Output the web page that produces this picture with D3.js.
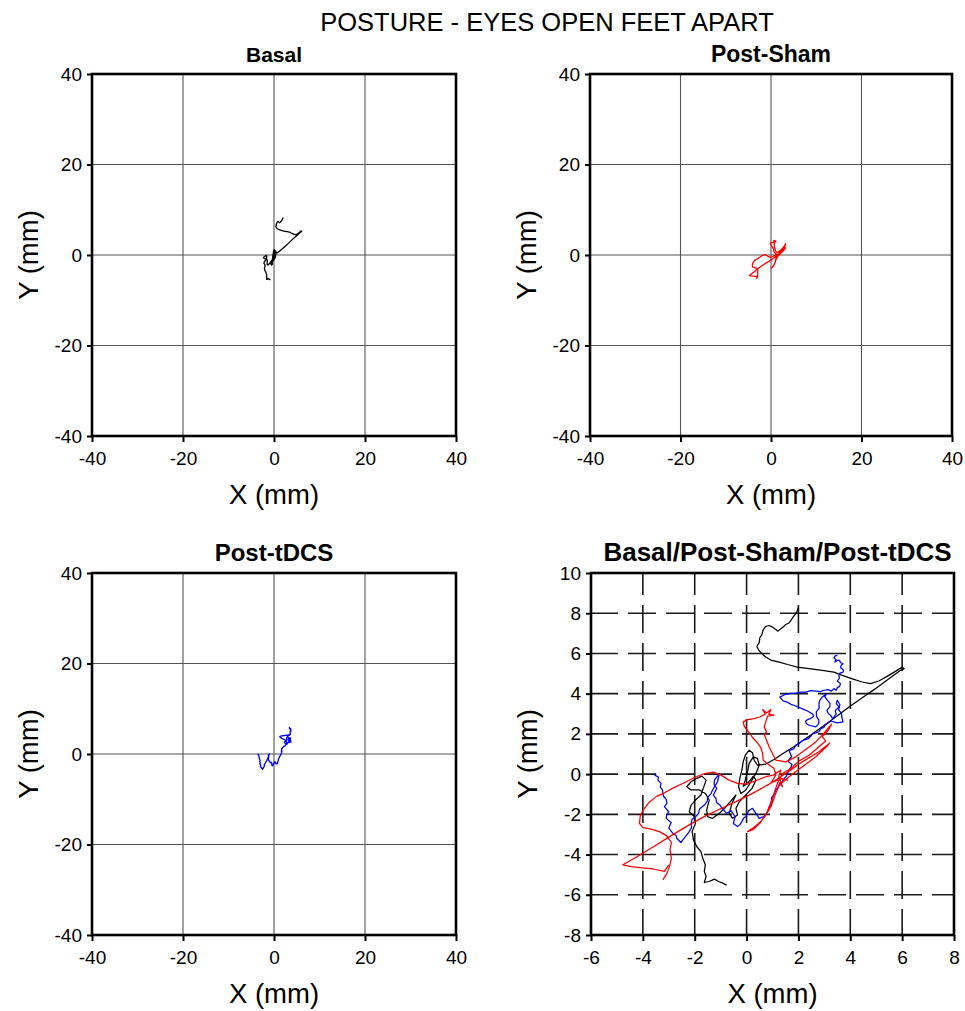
<!DOCTYPE html>
<html>
<head>
<meta charset="utf-8">
<script src="https://cdn.jsdelivr.net/npm/d3@7"></script>
<style>
  html, body { margin: 0; padding: 0; background: #fff; }
  svg text { font-family: "Liberation Sans", Arial, sans-serif; fill: #000; }
</style>
</head>
<body>
<svg id="chart" width="965" height="1011"></svg>
<script>
// Centre-of-pressure traces (mm), one array pair per condition
const basalX = [2.00,1.95,1.87,1.79,1.71,1.62,1.51,1.41,1.31,1.21,
  1.10,1.00,0.87,0.74,0.64,0.59,0.51,0.49,0.40,0.46,
  0.59,0.74,0.97,1.26,1.58,1.96,2.41,2.92,3.37,3.69,
  4.08,4.46,4.78,5.10,5.42,5.74,6.00,6.08,5.94,5.49,
  4.97,4.46,3.95,3.44,2.92,2.41,1.90,1.45,1.06,0.74,
  0.42,0.29,0.23,0.10,-0.05,-0.13,-0.18,-0.26,-0.31,-0.22,
  -0.03,0.17,0.36,0.49,0.42,0.26,0.10,0.04,-0.05,-0.13,
  0.04,0.26,0.36,0.21,-0.03,-0.28,-0.41,-0.35,-0.54,-0.67,
  -0.56,-0.41,-0.79,-1.05,-1.31,-1.50,-1.54,-1.44,-1.59,-1.82,
  -2.14,-2.31,-2.14,-1.92,-1.72,-1.56,-1.76,-1.97,-2.14,-2.21,
  -2.01,-1.97,-2.10,-2.05,-1.92,-1.76,-1.69,-1.59,-1.63,-1.56,
  -1.63,-1.44,-1.24,-1.08,-0.92,-0.77];
const basalY = [8.30,8.10,7.93,7.80,7.64,7.50,7.44,7.31,7.22,7.11,
  7.21,7.31,7.39,7.34,7.17,6.94,6.78,6.55,6.35,6.18,
  5.98,5.82,5.65,5.57,5.45,5.32,5.24,5.16,5.07,4.91,
  4.74,4.58,4.50,4.63,4.86,5.11,5.32,5.24,5.16,4.74,
  4.25,3.80,3.34,2.84,2.35,1.88,1.42,1.06,0.73,0.50,
  0.45,0.69,1.06,1.19,0.94,0.61,0.20,-0.21,-0.63,-0.96,
  -0.79,-0.38,0.03,0.45,0.78,0.86,0.53,0.12,-0.30,-0.60,
  -0.46,-0.10,-0.30,-0.71,-1.04,-1.37,-1.70,-2.03,-2.20,-1.95,
  -1.45,-1.04,-1.62,-1.95,-2.20,-2.12,-1.79,-1.29,-0.96,-0.79,
  -0.79,-0.63,-0.38,-0.21,-0.10,-0.30,-1.04,-1.29,-1.54,-1.87,
  -2.12,-2.45,-2.86,-3.27,-3.60,-3.85,-4.18,-4.51,-4.84,-5.09,
  -5.39,-5.34,-5.22,-5.34,-5.42,-5.52];

const shamX = [-3.23,-3.08,-2.97,-2.90,-2.95,-2.90,-3.08,-3.36,-3.68,-4.00,
  -4.13,-4.10,-3.97,-3.77,-3.49,-3.17,-2.78,-2.40,-2.01,-1.63,
  -1.28,-0.99,-0.67,-0.35,-0.03,0.36,0.74,1.03,1.32,1.23,
  1.58,1.28,1.38,1.21,0.94,1.13,1.06,0.87,0.64,0.62,
  0.55,0.42,0.23,0.08,-0.09,-0.13,0.04,0.29,0.51,0.72,
  0.62,0.77,0.94,0.85,1.06,0.81,0.74,0.68,0.77,0.68,
  0.87,1.13,1.51,1.90,2.28,2.67,2.99,3.28,3.15,2.92,
  3.05,2.79,2.41,2.03,1.71,1.38,1.19,1.06,0.94,0.77,
  0.55,0.29,0.04,0.23,0.51,0.74,0.94,1.10,1.26,1.64,
  2.15,2.67,3.08,3.21,2.79,2.15,1.51,0.87,0.23,-0.41,
  -1.05,-1.69,-2.33,-2.97,-3.62,-4.26,-4.77,-4.45,-4.00,-3.55,
  -3.17,-3.00];
const shamY = [-5.26,-4.96,-4.60,-4.18,-3.77,-3.40,-3.07,-2.86,-2.74,-2.66,
  -2.45,-2.08,-1.75,-1.42,-1.12,-0.93,-0.66,-0.43,-0.17,0.03,
  0.10,-0.05,-0.30,-0.46,-0.50,-0.33,-0.13,-0.05,0.20,-0.17,
  -0.30,-0.21,-0.63,-0.30,-0.43,-0.05,0.28,0.45,0.69,1.02,
  1.32,1.55,1.82,2.10,2.38,2.60,2.71,2.76,2.84,2.98,
  3.21,3.04,3.21,2.98,2.93,2.88,2.60,2.35,2.10,1.98,
  1.36,0.69,0.61,0.86,1.22,1.60,2.05,2.48,2.18,1.85,
  1.65,1.36,0.94,0.66,0.28,0.03,-0.46,-0.96,-1.45,-1.95,
  -2.36,-2.64,-2.86,-2.78,-2.45,-2.03,-1.62,-1.04,-0.55,-0.13,
  0.36,0.86,1.36,1.55,1.11,0.61,0.03,-0.50,-0.96,-1.37,
  -1.75,-2.15,-2.61,-3.11,-3.64,-4.13,-4.51,-4.60,-4.66,-4.73,
  -4.84,-4.51];

const tdcsX = [3.50,3.42,3.37,3.45,3.41,3.52,3.59,3.62,3.72,3.64,
  3.63,3.74,3.72,3.60,3.56,3.58,3.50,3.62,3.59,3.50,
  3.46,3.37,3.28,3.14,2.99,2.83,2.67,2.48,2.28,2.10,
  1.90,1.70,1.51,1.28,1.41,1.56,1.71,1.87,2.03,2.20,
  2.35,2.56,2.58,2.47,2.36,2.28,2.30,2.41,2.67,2.78,
  2.79,2.70,2.69,2.80,2.79,2.83,2.92,3.08,3.02,3.12,
  3.22,3.21,3.10,3.15,3.26,3.31,3.46,3.42,3.56,3.46,
  3.50,3.60,3.55,3.66,3.67,3.72,3.50,3.24,3.03,2.98,
  2.86,2.80,2.67,2.54,2.47,2.38,2.26,2.12,2.03,1.90,
  1.83,1.64,1.74,1.64,1.62,1.75,1.71,1.62,1.58,1.54,
  1.45,1.38,1.26,1.22,1.13,1.07,0.97,0.95,0.87,0.82,
  0.72,0.49,0.36,0.23,0.08,-0.03,-0.12,-0.18,-0.25,-0.35,
  -0.51,-0.44,-0.60,-0.77,-0.95,-1.02,-1.15,-1.18,-1.28,-1.15,
  -1.25,-1.24,-1.05,-1.12,-1.22,-1.31,-1.38,-1.50,-1.52,-1.63,
  -1.82,-1.85,-1.97,-2.10,-2.14,-2.12,-2.21,-2.36,-2.53,-2.69,
  -2.72,-2.85,-3.00,-2.91,-3.10,-3.08,-3.00,-3.17,-3.07,-3.10,
  -3.20,-3.23,-3.24,-3.33,-3.30,-3.42,-3.40,-3.54,-3.49];
const tdcsY = [5.90,5.88,5.79,5.70,5.57,5.66,5.65,5.55,5.49,5.40,
  5.29,5.18,5.07,5.02,4.91,4.77,4.63,4.50,4.36,4.30,
  4.17,4.25,4.13,4.20,4.17,4.10,4.13,4.15,4.08,4.08,
  4.03,4.02,3.97,3.83,3.64,3.58,3.47,3.40,3.31,3.22,
  3.14,2.98,2.86,2.76,2.72,2.64,2.52,2.43,2.35,2.50,
  2.68,2.86,3.09,3.28,3.50,3.68,3.83,4.00,3.84,3.67,
  3.52,3.34,3.18,3.01,2.90,2.76,2.98,3.15,3.34,3.50,
  3.67,3.45,3.20,3.02,2.84,2.60,2.55,2.64,2.43,2.32,
  2.26,2.12,2.05,2.00,1.88,1.76,1.72,1.64,1.52,1.44,
  1.27,1.16,0.86,0.74,0.61,0.48,0.33,0.18,0.03,-0.10,
  -0.21,-0.36,-0.50,-0.65,-0.79,-0.98,-1.16,-1.40,-1.62,-1.85,
  -2.08,-2.20,-1.95,-1.70,-1.82,-2.12,-2.20,-2.36,-2.50,-2.61,
  -2.45,-2.12,-1.82,-1.95,-1.70,-1.55,-1.42,-1.22,-1.04,-0.71,
  -0.52,-0.30,0.03,-0.38,-0.60,-0.79,-0.98,-1.16,-1.36,-1.54,
  -1.75,-1.95,-2.12,-2.25,-2.45,-2.65,-2.86,-3.11,-3.40,-3.19,
  -3.05,-2.94,-2.69,-2.41,-2.20,-2.02,-1.87,-1.62,-1.45,-1.26,
  -1.10,-0.96,-0.80,-0.63,-0.46,-0.30,-0.15,-0.05,0.03];

// Axis ticks
const wideTicks = [-40, -20, 0, 20, 40];
const zoomXTicks = [-6, -4, -2, 0, 2, 4, 6, 8];
const zoomYTicks = [-8, -6, -4, -2, 0, 2, 4, 6, 8, 10];

const mainTitle = "POSTURE - EYES OPEN FEET APART";
const panelTitles = ["Basal", "Post-Sham", "Post-tDCS", "Basal/Post-Sham/Post-tDCS"];
const seriesColors = { basal: "#000000", sham: "#ff0000", tdcs: "#0000ff" };

const toPoints = (xs, ys) => xs.map((x, i) => [x, ys[i]]);
const basal = toPoints(basalX, basalY);
const sham = toPoints(shamX, shamY);
const tdcs = toPoints(tdcsX, tdcsY);

const svg = d3.select("#chart");

svg.append("text")
  .attr("x", 547).attr("y", 31)
  .attr("text-anchor", "middle")
  .style("font-size", "25.5px")
  .text(mainTitle);

// plain hyphen for negative tick values
const tickText = d => String(d);

function drawPanel(opt) {
  const g = svg.append("g");
  const x = d3.scaleLinear().domain(opt.xDomain).range([opt.left, opt.right]);
  const y = d3.scaleLinear().domain(opt.yDomain).range([opt.bottom, opt.top]);
  const inner = v => v > opt.xDomain[0] && v < opt.xDomain[1];
  const innerY = v => v > opt.yDomain[0] && v < opt.yDomain[1];

  // grid
  const grid = g.append("g");
  if (opt.dashed) {
    grid.selectAll("line.v").data(opt.xTicks.filter(inner)).join("line")
      .attr("x1", d => x(d)).attr("x2", d => x(d))
      .attr("y1", opt.top).attr("y2", opt.bottom)
      .attr("stroke", "#1a1a1a").attr("stroke-width", 1.6)
      .attr("stroke-dasharray", "28,10").attr("stroke-dashoffset", 6);
    grid.selectAll("line.h").data(opt.yTicks.filter(innerY)).join("line")
      .attr("x1", opt.right).attr("x2", opt.left)
      .attr("y1", d => y(d)).attr("y2", d => y(d))
      .attr("stroke", "#1a1a1a").attr("stroke-width", 1.6)
      .attr("stroke-dasharray", "28,10").attr("stroke-dashoffset", 6);
  } else {
    grid.selectAll("line.v").data(opt.xTicks.filter(inner)).join("line")
      .attr("x1", d => x(d)).attr("x2", d => x(d))
      .attr("y1", opt.top).attr("y2", opt.bottom)
      .attr("stroke", "#555").attr("stroke-width", 1.1);
    grid.selectAll("line.h").data(opt.yTicks.filter(innerY)).join("line")
      .attr("x1", opt.left).attr("x2", opt.right)
      .attr("y1", d => y(d)).attr("y2", d => y(d))
      .attr("stroke", "#555").attr("stroke-width", 1.1);
  }

  // traces
  const line = d3.line().x(d => x(d[0])).y(d => y(d[1]));
  opt.series.forEach(s => {
    g.append("path")
      .datum(s.data)
      .attr("d", line)
      .attr("fill", "none")
      .attr("stroke", s.color)
      .attr("stroke-width", opt.traceWidth)
      .attr("stroke-linejoin", "round");
  });

  // axes
  const xAxis = d3.axisBottom(x).tickValues(opt.xTicks).tickFormat(tickText).tickSize(6).tickPadding(6);
  const yAxis = d3.axisLeft(y).tickValues(opt.yTicks).tickFormat(tickText).tickSize(5).tickPadding(5);
  const gx = g.append("g").attr("transform", `translate(0,${opt.bottom})`).call(xAxis);
  const gy = g.append("g").attr("transform", `translate(${opt.left},0)`).call(yAxis);
  [gx, gy].forEach(a => {
    a.select(".domain").remove();
    a.selectAll(".tick line").attr("stroke", "#000").attr("stroke-width", 2);
    a.selectAll(".tick text")
      .style("font-size", "19px")
      .style("font-family", '"Liberation Sans", Arial, sans-serif')
      .attr("fill", "#000");
  });
  gx.selectAll(".tick text").attr("dy", "0.92em");

  // frame
  g.append("rect")
    .attr("x", opt.left).attr("y", opt.top)
    .attr("width", opt.right - opt.left).attr("height", opt.bottom - opt.top)
    .attr("fill", "none").attr("stroke", "#000").attr("stroke-width", 2.6);

  // titles
  g.append("text")
    .attr("x", (opt.left + opt.right) / 2 + (opt.titleShift || 0)).attr("y", opt.top - 12)
    .attr("text-anchor", "middle")
    .style("font-size", opt.titleSize + "px").style("font-weight", "bold")
    .text(opt.title);
  g.append("text")
    .attr("x", (opt.left + opt.right) / 2).attr("y", opt.bottom + 68)
    .attr("text-anchor", "middle")
    .style("font-size", "27.5px")
    .text("X (mm)");
  g.append("text")
    .attr("transform", `translate(${opt.left - 54},${(opt.top + opt.bottom) / 2}) rotate(-90)`)
    .attr("text-anchor", "middle")
    .style("font-size", "27.5px")
    .text("Y (mm)");
}

drawPanel({
  left: 92, right: 456, top: 74, bottom: 436,
  xDomain: [-40, 40], yDomain: [-40, 40],
  xTicks: wideTicks, yTicks: wideTicks,
  title: panelTitles[0], titleSize: 21, traceWidth: 1.3,
  series: [{ data: basal, color: seriesColors.basal }]
});
drawPanel({
  left: 590, right: 952, top: 74, bottom: 436,
  xDomain: [-40, 40], yDomain: [-40, 40],
  xTicks: wideTicks, yTicks: wideTicks,
  title: panelTitles[1], titleSize: 23, traceWidth: 1.3,
  series: [{ data: sham, color: seriesColors.sham }]
});
drawPanel({
  left: 92, right: 456, top: 573, bottom: 935,
  xDomain: [-40, 40], yDomain: [-40, 40],
  xTicks: wideTicks, yTicks: wideTicks,
  title: panelTitles[2], titleSize: 24, traceWidth: 1.3,
  series: [{ data: tdcs, color: seriesColors.tdcs }]
});
drawPanel({
  left: 591, right: 954, top: 573, bottom: 935,
  xDomain: [-6, 8], yDomain: [-8, 10],
  xTicks: zoomXTicks, yTicks: zoomYTicks, dashed: true,
  title: panelTitles[3], titleSize: 26, titleShift: 5, traceWidth: 1.25,
  series: [
    { data: basal, color: seriesColors.basal },
    { data: tdcs, color: seriesColors.tdcs },
    { data: sham, color: seriesColors.sham }
  ]
});
</script>
</body>
</html>
